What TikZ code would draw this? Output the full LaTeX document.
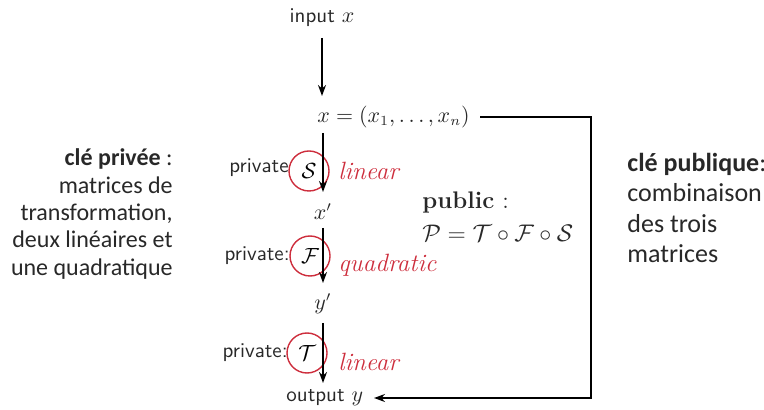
\documentclass[tikz,border=0pt]{standalone}
\usepackage{fontspec}
\newfontfamily\carlito{Carlito}
\usetikzlibrary{arrows.meta}
\definecolor{myred}{RGB}{205,45,60}
\definecolor{ink}{RGB}{40,40,40}
\begin{document}
\begin{tikzpicture}[x=0.5pt,y=-0.5pt,
  lbl/.style={font=\sffamily\fontsize{10.5}{12}\selectfont, text=ink, inner sep=0pt},
  mth/.style={font=\fontsize{10.5}{12}\selectfont, text=ink, inner sep=0pt},
  redl/.style={font=\fontsize{12.5}{14}\selectfont\itshape, text=myred, inner sep=0pt, anchor=west},
  ring/.style={circle, draw=myred, line width=0.7pt, minimum size=20pt, inner sep=0pt, font=\fontsize{11}{12}\selectfont},
  arr/.style={line width=0.9pt, -{Stealth[length=5.5pt,width=4pt]}},
  fr/.style={inner sep=0pt, text=ink}
]
\useasboundingbox (0,0) rectangle (764,410);

% top
\node[lbl] (in) at (322,18) {input $x$};
\coordinate (a0) at (322,38);
\coordinate (a1) at (322,96);
\draw[arr] (a0) -- (a1);
\node[mth, anchor=west] (xv) at (317,117) {$x=(x_1,\ldots,x_n)$};

% S stage
\coordinate (s0) at (323,133);
\coordinate (s1) at (323,192);
\node[ring] (S) at (309,171) {$\mathcal{S}$};
\draw[arr] (s0) -- (s1);
\node[lbl, anchor=east] (pS) at (289,168) {private};
\node[redl] (lS) at (338,171) {linear};
\node[mth] (xp) at (323,212) {$x'$};

% F stage
\coordinate (f0) at (323,228);
\coordinate (f1) at (323,283);
\node[ring] (F) at (310,256) {$\mathcal{F}$};
\draw[arr] (f0) -- (f1);
\node[lbl, anchor=east] (pF) at (290,256) {private:};
\node[redl] (lF) at (338,265) {quadratic};
\node[mth] (yp) at (323,304) {$y'$};

% T stage
\coordinate (t0) at (323,323);
\coordinate (t1) at (323,383);
\node[ring] (T) at (307,353) {$\mathcal{T}$};
\draw[arr] (t0) -- (t1);
\node[lbl, anchor=east] (pT) at (288,353) {private:};
\node[redl] (lT) at (338,362) {linear};

% output
\node[lbl, anchor=west] (out) at (286,398) {output $y$};

% feedback line
\coordinate (c0) at (480,117);
\coordinate (c1) at (591,117);
\coordinate (c2) at (591,398);
\coordinate (c3) at (374,398);
\draw[arr] (c0) -- (c1) -- (c2) -- (c3);

% public
\node[fr, anchor=west, font=\fontsize{12}{14}\selectfont] (pub) at (422,203) {\textbf{public} :};
\node[fr, anchor=west, font=\fontsize{12.5}{14}\selectfont] (peq) at (422,233) {$\mathcal{P}=\mathcal{T}\circ\mathcal{F}\circ\mathcal{S}$};

% left text
\node[fr, anchor=east, align=right, font=\carlito\fontsize{12}{13.7}\selectfont] (left) at (173,214)
  {\textbf{clé privée} :\\ matrices de\\ transformation,\\ deux linéaires et\\ une quadratique};

% right text
\node[fr, anchor=west, align=left, font=\carlito\fontsize{13}{15.3}\selectfont] (right) at (627,208)
  {\textbf{clé publique}:\\ combinaison\\ des trois\\ matrices};
\end{tikzpicture}
\end{document}
